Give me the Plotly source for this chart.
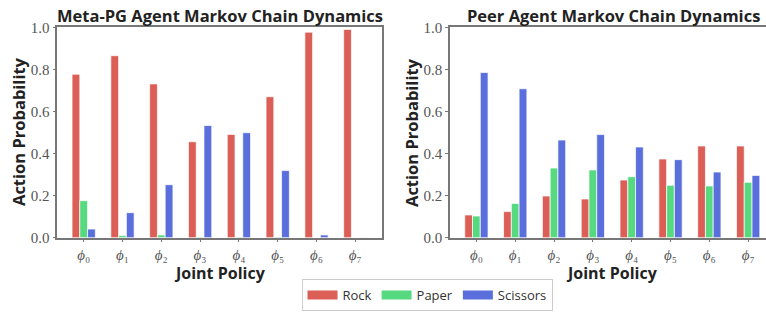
import plotly.graph_objects as go

policies = ["ϕ0", "ϕ1", "ϕ2", "ϕ3", "ϕ4", "ϕ5", "ϕ6", "ϕ7"]
subs = ["₀", "₁", "₂", "₃", "₄", "₅", "₆", "₇"]
tick_labels = ["<i>ϕ</i>" + s for s in subs]
actions = ["Rock", "Paper", "Scissors"]
y_ticks = [0.0, 0.2, 0.4, 0.6, 0.8, 1.0]
y_tick_labels = ["0.0", "0.2", "0.4", "0.6", "0.8", "1.0"]

meta_rock = [0.777, 0.865, 0.731, 0.456, 0.491, 0.670, 0.977, 0.990]
meta_paper = [0.176, 0.010, 0.013, 0.003, 0.003, 0.003, 0.0, 0.0]
meta_scissors = [0.041, 0.119, 0.252, 0.533, 0.499, 0.319, 0.013, 0.001]

peer_rock = [0.108, 0.124, 0.198, 0.184, 0.274, 0.374, 0.436, 0.436]
peer_paper = [0.103, 0.163, 0.331, 0.322, 0.290, 0.249, 0.246, 0.263]
peer_scissors = [0.785, 0.708, 0.464, 0.490, 0.431, 0.371, 0.312, 0.296]

colors = {"Rock": "#db5f57", "Paper": "#57d97f", "Scissors": "#5a6fdb"}

x_idx = list(range(len(policies)))

fig = go.Figure()
for name, vals in zip(actions, [meta_rock, meta_paper, meta_scissors]):
    fig.add_trace(go.Bar(x=x_idx, y=vals, name=name, marker_color=colors[name],
                         marker_line=dict(color="rgba(255,255,255,0.7)", width=1),
                         xaxis="x", yaxis="y", showlegend=False, offsetgroup=name))
for name, vals in zip(actions, [peer_rock, peer_paper, peer_scissors]):
    fig.add_trace(go.Bar(x=x_idx, y=vals, name=name, marker_color=colors[name],
                         marker_line=dict(color="rgba(255,255,255,0.7)", width=1),
                         xaxis="x2", yaxis="y2", showlegend=False, offsetgroup=name))
# legend entries (wide patches)
for name in actions:
    fig.add_trace(go.Scatter(x=[None], y=[None], mode="lines", name=name,
                             line=dict(color=colors[name], width=9),
                             xaxis="x", yaxis="y"))

tickfont_y = dict(family="Liberation Serif", size=15, color="#555")
tickfont_x = dict(family="Liberation Serif", size=15, color="#555")
title_font = dict(family="Open Sans", size=16.5, color="#222")
label_font = dict(family="Open Sans", size=16, color="#222")
axis_common = dict(showline=True, linecolor="#777", linewidth=1.5, ticks="outside",
                   ticklen=3, tickcolor="#777", showgrid=False, zeroline=False,
                   automargin=False)

ydom = [1 - 237.7 / 312, 1 - 27.3 / 312]
fig.update_layout(
    template="none",
    width=766, height=312,
    margin=dict(l=0, r=0, t=0, b=0, pad=0),
    plot_bgcolor="white", paper_bgcolor="white",
    barmode="group", bargap=0.4, bargroupgap=0,
    xaxis=dict(domain=[57.3 / 766, 381.7 / 766], range=[-0.68, 7.68], tickvals=x_idx,
               ticktext=tick_labels, tickfont=tickfont_x, mirror=True, anchor="y",
               **axis_common),
    yaxis=dict(domain=ydom, range=[0, 1.0], tickvals=y_ticks,
               ticktext=y_tick_labels, tickfont=tickfont_y,
               mirror=True, anchor="x", **axis_common),
    xaxis2=dict(domain=[450 / 766, 1.0], range=[-0.68, 7.46], tickvals=x_idx,
                ticktext=tick_labels, tickfont=tickfont_x, mirror=True, anchor="y2",
                **axis_common),
    yaxis2=dict(domain=ydom, range=[0, 1.0], tickvals=y_ticks,
                ticktext=y_tick_labels, tickfont=tickfont_y,
                mirror=False, anchor="x2", **axis_common),
    legend=dict(orientation="h", x=427 / 766, y=17 / 312, xanchor="center", yanchor="middle",
                bordercolor="#ccc", borderwidth=1, bgcolor="white",
                font=dict(family="Open Sans", size=13, color="#333"), itemwidth=30),
    annotations=[
        dict(text="<b>Meta-PG Agent Markov Chain Dynamics</b>", x=219.5 / 766, y=1 - 15 / 312,
             xref="paper", yref="paper", showarrow=False, font=title_font,
             xanchor="center", yanchor="middle"),
        dict(text="<b>Peer Agent Markov Chain Dynamics</b>", x=613.5 / 766, y=1 - 15 / 312,
             xref="paper", yref="paper", showarrow=False, font=title_font,
             xanchor="center", yanchor="middle"),
        dict(text="<b>Action Probability</b>", x=18 / 766, y=1 - 132 / 312, textangle=-90,
             xref="paper", yref="paper", showarrow=False, font=title_font,
             xanchor="center", yanchor="middle"),
        dict(text="<b>Action Probability</b>", x=411 / 766, y=1 - 132 / 312, textangle=-90,
             xref="paper", yref="paper", showarrow=False, font=title_font,
             xanchor="center", yanchor="middle"),
        dict(text="<b>Joint Policy</b>", x=219.5 / 766, y=1 - 273 / 312,
             xref="paper", yref="paper", showarrow=False, font=label_font,
             xanchor="center", yanchor="middle"),
        dict(text="<b>Joint Policy</b>", x=612 / 766, y=1 - 273 / 312,
             xref="paper", yref="paper", showarrow=False, font=label_font,
             xanchor="center", yanchor="middle"),
    ],
)

fig.write_html("out.html", config={"displayModeBar": False},
               post_script="document.body.style.margin='0';")
